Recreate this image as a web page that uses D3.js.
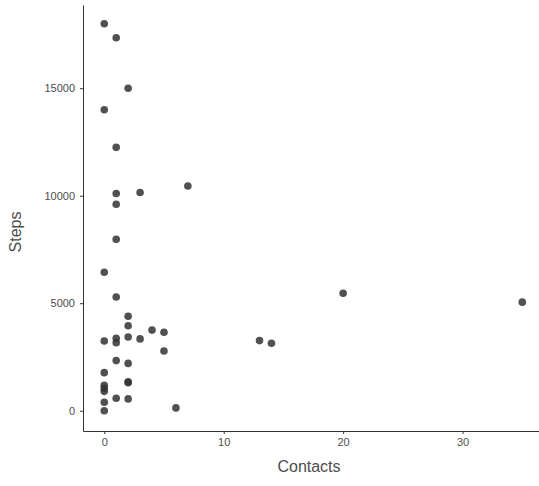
<!DOCTYPE html>
<html>
<head>
<meta charset="utf-8">
<script src="https://cdn.jsdelivr.net/npm/d3@7"></script>
<style>
  body { margin: 0; background: #fff; }
  .axis text { font-family: "Liberation Sans", Arial, sans-serif; font-size: 11px; fill: #4d4d4d; }
  .axis path, .axis line { stroke: #333; }
  .title { font-family: "Liberation Sans", Arial, sans-serif; font-size: 16px; fill: #4d4d4d; }
</style>
</head>
<body>
<div id="chart"></div>
<script>
// contacts per person (x)
var contacts = [0, 1, 2, 0, 1, 1, 3, 1, 7, 1, 0, 1, 2, 2, 4, 5, 0, 1, 1, 2, 3, 20, 35, 13, 14,
  5, 1, 2, 0, 0, 0, 0, 2, 2, 1, 2, 0, 0, 6];
// steps per person (y)
var steps = [18000, 17350, 15000, 14000, 12250, 10100, 10150, 9600, 10450, 7970, 6440, 5290, 4390, 3950, 3750, 3650, 3240, 3370, 3160, 3430, 3340, 5460, 5050, 3260, 3140,
  2780, 2330, 2200, 1770, 1180, 1040, 900, 1300, 1350, 580, 550, 390, 0, 130];

var xTicks = [0, 10, 20, 30];
var yTicks = [0, 5000, 10000, 15000];

var svgWidth = 539;
var svgHeight = 486;
var margin = { top: 5, right: 0, bottom: 55, left: 83 };
var chartWidth = svgWidth - margin.left - margin.right;
var chartHeight = svgHeight - margin.top - margin.bottom;

var svg = d3.select("#chart")
  .append("svg")
  .attr("width", svgWidth)
  .attr("height", svgHeight);

var chartGroup = svg.append("g")
  .attr("transform", `translate(${margin.left}, ${margin.top})`);

// scales with ggplot-like padding
var xScale = d3.scaleLinear()
  .domain([-1.78, 36.4])
  .range([0, chartWidth]);

var yScale = d3.scaleLinear()
  .domain([-944, 18870])
  .range([chartHeight, 0]);

var xAxis = d3.axisBottom(xScale).tickValues(xTicks).tickSize(3).tickPadding(4).tickSizeOuter(0).tickFormat(d3.format("d"));
var yAxis = d3.axisLeft(yScale).tickValues(yTicks).tickSize(3).tickPadding(5).tickSizeOuter(0).tickFormat(d3.format("d"));

chartGroup.append("g")
  .attr("class", "axis")
  .attr("transform", `translate(0, ${chartHeight})`)
  .call(xAxis);

chartGroup.append("g")
  .attr("class", "axis")
  .call(yAxis);

// points
chartGroup.append("g")
  .selectAll("circle")
  .data(contacts)
  .enter()
  .append("circle")
  .attr("cx", d => xScale(d))
  .attr("cy", (d, i) => yScale(steps[i]))
  .attr("r", 3.8)
  .attr("fill", "#333")
  .attr("fill-opacity", 0.85);

// axis titles
svg.append("text")
  .attr("class", "title")
  .attr("x", 309)
  .attr("y", 472)
  .attr("text-anchor", "middle")
  .text("Contacts");

svg.append("text")
  .attr("class", "title")
  .attr("transform", "translate(21, 232) rotate(-90)")
  .attr("text-anchor", "middle")
  .text("Steps");
</script>
</body>
</html>
